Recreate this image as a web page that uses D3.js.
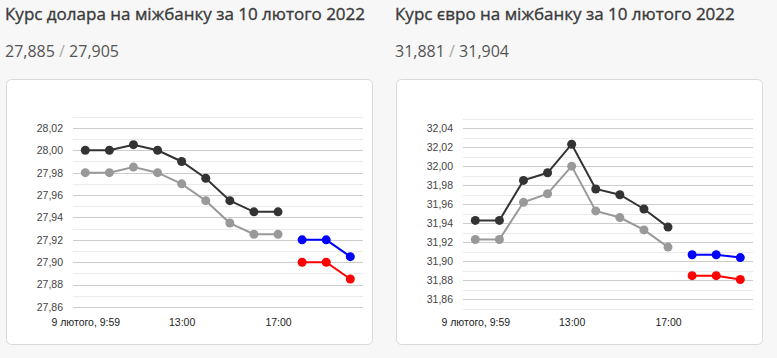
<!DOCTYPE html>
<html><head><meta charset="utf-8">
<script src="https://cdn.jsdelivr.net/npm/d3@7"></script>
<style>html,body{margin:0;padding:0;background:#f7f7f7;}svg{display:block;}</style>
</head><body>
<svg id="c" width="777" height="358"></svg>
<script>
const categories = ["9 лютого, 9:59","10:00","11:00","12:00","13:00","14:00","15:00","16:00","17:00","18:00","19:00","20:00"];
const xTickLabels = ["9 лютого, 9:59","13:00","17:00"];

const usdTitle = "Курс долара на міжбанку за 10 лютого 2022";
const usdBuy = "27,885", usdSell = "27,905";
const usdBlack = [28.000, 28.000, 28.005, 28.000, 27.990, 27.975, 27.955, 27.945, 27.945];
const usdGrey  = [27.980, 27.980, 27.985, 27.980, 27.970, 27.955, 27.935, 27.925, 27.925];
const usdBlue  = [27.920, 27.920, 27.905];
const usdRed   = [27.900, 27.900, 27.885];
const usdTicks = [27.86, 27.88, 27.90, 27.92, 27.94, 27.96, 27.98, 28.00, 28.02];

const eurTitle = "Курс євро на міжбанку за 10 лютого 2022";
const eurBuy = "31,881", eurSell = "31,904";
const eurBlack = [31.943, 31.943, 31.985, 31.993, 32.023, 31.976, 31.970, 31.955, 31.936];
const eurGrey  = [31.923, 31.923, 31.962, 31.971, 32.000, 31.953, 31.946, 31.933, 31.915];
const eurBlue  = [31.907, 31.907, 31.904];
const eurRed   = [31.885, 31.885, 31.881];
const eurTicks = [31.86, 31.88, 31.90, 31.92, 31.94, 31.96, 31.98, 32.00, 32.02, 32.04];

const svg = d3.select("#c");
svg.append("rect").attr("width",777).attr("height",358).attr("fill","#f7f7f7");

function panel(o){
  const g = svg.append("g").attr("transform",`translate(${o.ox},0)`);
  g.append("text").attr("x",5).attr("y",19.5).attr("font-family","Open Sans")
    .attr("font-size",17).attr("fill","#3a3a3a").attr("stroke","#3a3a3a").attr("stroke-width",0.35)
    .text(o.title);
  const t = g.append("text").attr("x",5).attr("y",56.5).attr("font-family","Open Sans")
    .attr("font-size",16).attr("fill","#555");
  t.append("tspan").text(o.buy);
  t.append("tspan").attr("fill","#aaa").text(" / ");
  t.append("tspan").text(o.sell);

  g.append("rect").attr("x",6.5).attr("y",79.5).attr("width",366).attr("height",265).attr("rx",5)
    .attr("fill","#fff").attr("stroke","#d9d9d9");

  const x = d3.scalePoint().domain(categories).range([85.3, 350.3]);
  const y = d3.scaleLinear().domain(o.domain).range(o.range);

  const lo = Math.round(o.domain[0]*100), hi = Math.round(o.domain[1]*100);
  const lines = d3.range(lo, hi+1).map(v => v/100);
  const major = new Set(o.ticks.map(v => Math.round(v*100)));
  g.append("g").selectAll("line").data(lines).join("line")
    .attr("x1",73).attr("x2",363)
    .attr("y1",d=>Math.round(y(d))+0.5).attr("y2",d=>Math.round(y(d))+0.5)
    .attr("stroke",d=>major.has(Math.round(d*100))?"#cccccc":"#ebebeb").attr("stroke-width",1);

  const ya = d3.axisLeft(y).tickValues(o.ticks).tickSize(0).tickPadding(0)
    .tickFormat(d => d.toFixed(2).replace(".", ","));
  const yg = g.append("g").attr("transform","translate(63,0)").call(ya);
  yg.select(".domain").remove();
  yg.selectAll("text").attr("font-family","Liberation Sans, Arial").attr("font-size",10.5).attr("fill","#444");

  const xa = d3.axisBottom(x).tickValues(xTickLabels).tickSize(0).tickPadding(0);
  const xg = g.append("g").attr("transform","translate(0,319)").call(xa);
  xg.select(".domain").remove();
  xg.selectAll("text").attr("font-family","Liberation Sans, Arial").attr("font-size",10.5).attr("fill","#222");

  function series(vals, cats, color){
    const data = vals.map((v,i)=>({c:cats[i], v}));
    g.append("path").datum(data).attr("fill","none").attr("stroke",color).attr("stroke-width",2)
      .attr("d", d3.line().x(d=>x(d.c)).y(d=>y(d.v)));
    g.append("g").selectAll("circle").data(data).join("circle")
      .attr("cx",d=>x(d.c)).attr("cy",d=>y(d.v)).attr("r",4.5).attr("fill",color);
  }
  const first = categories.slice(0,9), last = categories.slice(9);
  series(o.grey, first, "#999999");
  series(o.black, first, "#333333");
  series(o.blue, last, "#0000ff");
  series(o.red, last, "#ff0000");
}

panel({ox:0, title:usdTitle, buy:usdBuy, sell:usdSell, domain:[27.86,28.03], range:[307,116.7],
  ticks:usdTicks, black:usdBlack, grey:usdGrey, blue:usdBlue, red:usdRed});
panel({ox:390, title:eurTitle, buy:eurBuy, sell:eurSell, domain:[31.85,32.05], range:[309,118.5],
  ticks:eurTicks, black:eurBlack, grey:eurGrey, blue:eurBlue, red:eurRed});
</script>
</body></html>
